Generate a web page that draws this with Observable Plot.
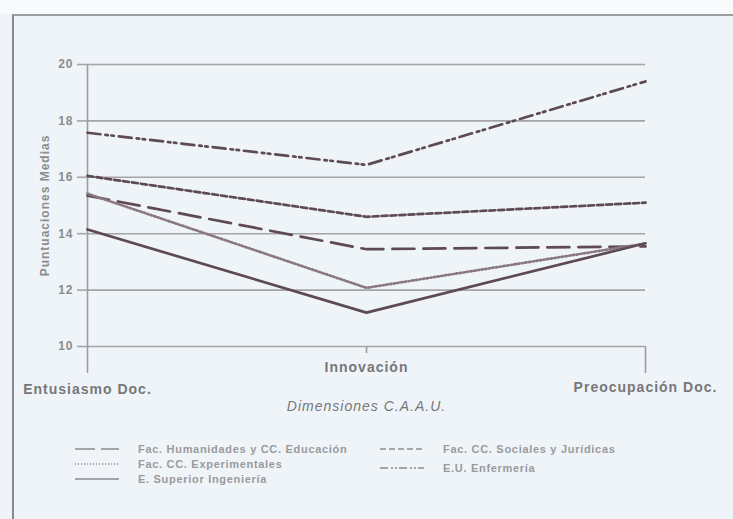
<!DOCTYPE html>
<html><head><meta charset="utf-8">
<script src="https://cdn.jsdelivr.net/npm/d3@7"></script>
<script src="https://cdn.jsdelivr.net/npm/@observablehq/plot@0.6"></script>
<style>
html,body{margin:0;padding:0;width:733px;height:519px;overflow:hidden;background:#eff4f9;font-family:"Liberation Sans",Arial,sans-serif;}
#top{position:absolute;left:0;top:0;width:733px;height:14px;background:#f8fafc}
#frame{position:absolute;left:12px;top:14px;width:740px;height:520px;border-top:2px solid #9b9ba3;border-left:2px solid #8d8497;}
#chart{position:absolute;left:0;top:0}
.item{position:absolute;display:flex;align-items:center;font-size:11px;font-weight:bold;letter-spacing:0.7px;color:#9a9a9c;white-space:nowrap;height:12px}
.item svg{margin-right:19px}
</style></head>
<body>
<div id="top"></div>
<div id="frame"></div>
<div id="chart"></div>
<div id="legend"></div>
<script>
const categories = ["Entusiasmo Doc.", "Innovación", "Preocupación Doc."];
const seriesNames = ["Fac. Humanidades y CC. Educación", "Fac. CC. Sociales y Jurídicas", "Fac. CC. Experimentales", "E.U. Enfermería", "E. Superior Ingeniería"];
const humanidades = [15.35, 13.45, 13.55];
const sociales = [16.05, 14.6, 15.1];
const experimentales = [15.42, 12.08, 13.65];
const enfermeria = [17.58, 16.44, 19.4];
const ingenieria = [14.15, 11.2, 13.66];
const yTicks = [10, 12, 14, 16, 18, 20];

const seriesValues = [humanidades, sociales, experimentales, enfermeria, ingenieria];
const dashes = ["22,9", "6,3", "1.5,2.2", "13,5,2.5,3.5,2.5,5", null];
const legendDashes = ["20,6", "6,3", "1.2,1.8", "8,3,2,2,2,2", null];
const colors = ["#5e4a52", "#5e4a52", "#8a7880", "#5e4a52", "#5e4a52"];

const rows = vals => categories.map((c, i) => ({cat: c, value: vals[i]}));

const lineMarks = seriesValues.map((vals, i) =>
  Plot.line(rows(vals), {x: "cat", y: "value", stroke: colors[i], strokeWidth: 2.7,
    strokeDasharray: dashes[i] ?? undefined, strokeLinejoin: "round"}));

const chart = Plot.plot({
  width: 733, height: 519,
  marginLeft: 87, marginRight: 88, marginTop: 64, marginBottom: 173,
  style: {background: "transparent", fontFamily: "Liberation Sans, Arial, sans-serif", letterSpacing: "1px"},
  x: {type: "point", domain: categories, padding: 0},
  y: {domain: [10, 20]},
  marks: [
    Plot.gridY(yTicks, {stroke: "#a4a4a8", strokeOpacity: 1, strokeWidth: 1.6}),
    Plot.ruleX([categories[0]], {stroke: "#9c9ca0", strokeWidth: 1.6}),
    Plot.axisY(yTicks, {tickSize: 10, tickPadding: 4, fontSize: 12, fontWeight: "bold",
      stroke: "#a4a4a8", strokeWidth: 1.6, fill: "#8c8c8c", label: null}),
    Plot.axisX([categories[0]], {tickSize: 27, tickPadding: 11, fontSize: 14, fontWeight: "bold", stroke: "#9c9ca0", strokeWidth: 1.6, fill: "#77777a", label: null}),
    Plot.axisX([categories[1]], {tickSize: 7, tickPadding: 9, fontSize: 14, fontWeight: "bold", stroke: "#9c9ca0", strokeWidth: 1.6, fill: "#77777a", label: null}),
    Plot.axisX([categories[2]], {tickSize: 27, tickPadding: 9, fontSize: 14, fontWeight: "bold", stroke: "#9c9ca0", strokeWidth: 1.6, fill: "#77777a", label: null}),
    Plot.text(["Puntuaciones Medias"], {text: d => d, frameAnchor: "left", textAnchor: "middle", dx: -42, rotate: -90, fontSize: 12, fontWeight: "bold", fill: "#8c8c8c"}),
    Plot.text(["Dimensiones C.A.A.U."], {text: d => d, frameAnchor: "bottom", dy: 64, fontSize: 14, fontStyle: "italic", fill: "#77777a"}),
    ...lineMarks
  ]
});
document.getElementById("chart").appendChild(chart);

// legend
const legendPos = [[75, 443], [380, 443], [75, 458], [380, 462], [75, 473]];
const legend = document.getElementById("legend");
seriesNames.forEach((name, i) => {
  const item = document.createElement("div");
  item.className = "item";
  item.style.left = legendPos[i][0] + "px";
  item.style.top = legendPos[i][1] + "px";
  const da = legendDashes[i] ? ` stroke-dasharray="${legendDashes[i]}"` : "";
  item.innerHTML = `<svg width="44" height="6"><line x1="0" x2="44" y1="3" y2="3" stroke="#8e8a90" stroke-width="1.5"${da}/></svg><span>${name}</span>`;
  legend.appendChild(item);
});
</script>
</body></html>
